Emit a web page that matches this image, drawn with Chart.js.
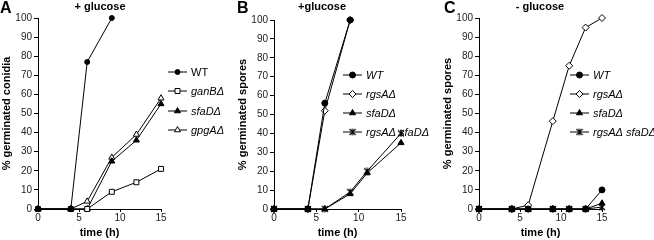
<!DOCTYPE html>
<html><head><meta charset="utf-8">
<script src="https://cdn.jsdelivr.net/npm/chart.js@4/dist/chart.umd.min.js"></script>
<style>
html,body{margin:0;padding:0;background:#fff;}
body{width:654px;height:240px;overflow:hidden;position:relative;}
.p{position:absolute;top:0;height:240px;}
canvas{display:block;}
</style></head><body>
<div class="p" style="left:0px"><canvas id="ca" width="230" height="240"></canvas></div>
<div class="p" style="left:215px"><canvas id="cb" width="215" height="240"></canvas></div>
<div class="p" style="left:430px"><canvas id="cc" width="224" height="240"></canvas></div>
<script>
// ---- data ----
const timeA = [0, 4, 6, 9, 12, 15];
const wtA = [0, 0, 77, 100];
const ganBA = [0, 0, 0, 9, 14, 21];
const sfaDA = [0, 0, 0, 25, 36, 55];
const gpgAA = [0, 0, 4, 27, 39, 58];
const labelsA = ['WT', 'ganBΔ', 'sfaDΔ', 'gpgAΔ'];

const timeB = [0, 4, 6, 9, 11, 15];
const wtB = [0, 0, 56, 100];
const rgsAB = [0, 0, 52, 100];
const sfaDB = [0, 0, 0, 8, 19, 35];
const rgsAsfaDB = [0, 0, 0, 9, 20, 40];
const labelsB = ['WT', 'rgsAΔ', 'sfaDΔ', 'rgsAΔ sfaDΔ'];

const timeC = [0, 4, 6, 9, 11, 13, 15];
const wtC = [0, 0, 0, 0, 0, 0, 10];
const rgsAC = [0, 0, 2, 46, 75, 95, 100];
const sfaDC = [0, 0, 0, 0, 0, 0, 3];
const rgsAsfaDC = [0, 0, 0, 0, 0, 0, 1];
const labelsC = ['WT', 'rgsAΔ', 'sfaDΔ', 'rgsAΔ sfaDΔ'];

const xTicks = [0, 5, 10, 15];
const yTicks = [0, 10, 20, 30, 40, 50, 60, 70, 80, 90, 100];

// ---- helpers ----
function starImg(size) {
  const c = document.createElement('canvas');
  c.width = size; c.height = size;
  const g = c.getContext('2d');
  g.strokeStyle = '#000'; g.lineWidth = 1.2;
  g.beginPath();
  g.moveTo(1, 1); g.lineTo(size - 1, size - 1);
  g.moveTo(size - 1, 1); g.lineTo(1, size - 1);
  g.moveTo(size / 2, 0.5); g.lineTo(size / 2, size - 0.5);
  g.stroke();
  return c;
}
const STAR = starImg(8);

function pts(times, vals) { return vals.map((v, i) => ({ x: times[i], y: v })); }

function ds(label, times, vals, style, radius, fill, italic) {
  return {
    label, data: pts(times, vals), italic,
    borderColor: '#000', borderWidth: 1, tension: 0, clip: false,
    pointStyle: style, pointRadius: radius, pointHoverRadius: radius,
    pointBackgroundColor: fill, pointBorderColor: '#000', pointBorderWidth: 1
  };
}

const FONT = '"Liberation Sans", Arial, sans-serif';

const decor = {
  id: 'decor',
  afterDraw(chart, args, o) {
    const ctx = chart.ctx;
    ctx.save();
    ctx.fillStyle = '#000';
    ctx.font = 'bold 16px ' + FONT;
    ctx.textBaseline = 'top'; ctx.textAlign = 'left';
    ctx.fillText(o.letter, o.letterX, 1);
    ctx.font = 'bold 11px ' + FONT;
    ctx.textAlign = 'center'; ctx.textBaseline = 'middle';
    ctx.fillText(o.title, o.titleX, 7);
    // legend
    const len = 19;
    chart.data.datasets.forEach((d, i) => {
      const y = o.rows[i];
      ctx.strokeStyle = '#000'; ctx.lineWidth = 1;
      ctx.beginPath(); ctx.moveTo(o.legX, y); ctx.lineTo(o.legX + len, y); ctx.stroke();
      ctx.fillStyle = d.pointBackgroundColor; ctx.strokeStyle = '#000';
      Chart.helpers.drawPoint(ctx, { pointStyle: d.pointStyle, radius: d.pointRadius, rotation: 0, borderWidth: 1 }, o.legX + len / 2, y);
      ctx.fillStyle = '#000';
      ctx.font = (d.italic ? 'italic ' : '') + '11px ' + FONT;
      ctx.textAlign = 'left'; ctx.textBaseline = 'middle';
      ctx.fillText(d.label, o.legX + len + 4, y + 0.5);
    });
    ctx.restore();
  }
};

function makeChart(id, datasets, yTitle, L, R, T, W, yTitlePad, dec) {
  new Chart(document.getElementById(id), {
    type: 'line',
    data: { datasets },
    plugins: [decor],
    options: {
      responsive: false, animation: false, devicePixelRatio: 1,
      layout: { padding: { top: T, right: W - R, left: 0, bottom: 0 } },
      plugins: { legend: { display: false }, tooltip: { enabled: false }, decor: dec },
      scales: {
        x: {
          type: 'linear', min: 0, max: 15,
          afterFit: s => { s.height = 31; },
          afterBuildTicks: s => { s.ticks = xTicks.map(v => ({ value: v })); },
          grid: { drawOnChartArea: false, drawTicks: true, tickLength: 3, color: '#000' },
          border: { color: '#000', width: 1 },
          ticks: { color: '#222', font: { family: FONT, size: 10 }, padding: 0, maxRotation: 0 },
          title: { display: true, text: 'time (h)', color: '#000', font: { family: FONT, size: 11, weight: 'bold' }, padding: 0 }
        },
        y: {
          type: 'linear', min: 0, max: 100,
          afterFit: s => { s.width = L; },
          afterBuildTicks: s => { s.ticks = yTicks.map(v => ({ value: v })); },
          grid: { drawOnChartArea: false, drawTicks: true, tickLength: 4, color: '#000' },
          border: { color: '#000', width: 1 },
          ticks: { color: '#222', font: { family: FONT, size: 10 }, padding: 2 },
          title: { display: true, text: yTitle, color: '#000', font: { family: FONT, size: 11, weight: 'bold' }, padding: { top: yTitlePad, bottom: 0 } }
        }
      }
    }
  });
}

makeChart('ca', [
  ds(labelsA[0], timeA, wtA, 'circle', 2.5, '#000', false),
  ds(labelsA[1], timeA, ganBA, 'rect', 3.5, '#fff', true),
  ds(labelsA[2], timeA, sfaDA, 'triangle', 3.5, '#000', true),
  ds(labelsA[3], timeA, gpgAA, 'triangle', 3.5, '#fff', true)
], '% germinated conidia', 38, 161, 18, 230, 0,
  { letter: 'A', letterX: 0, title: '+ glucose', titleX: 100, legX: 168, rows: [72, 91, 111, 130] });

makeChart('cb', [
  ds(labelsB[0], timeB, wtB, 'circle', 3, '#000', true),
  ds(labelsB[1], timeB, rgsAB, 'rectRot', 3.5, '#fff', true),
  ds(labelsB[2], timeB, sfaDB, 'triangle', 3.5, '#000', true),
  ds(labelsB[3], timeB, rgsAsfaDB, STAR, 4, '#fff', true)
], '% germinated spores', 59, 186, 20, 215, 21,
  { letter: 'B', letterX: 22, title: '+glucose', titleX: 107, legX: 128, rows: [75, 94, 113, 132] });

makeChart('cc', [
  ds(labelsC[0], timeC, wtC, 'circle', 3, '#000', true),
  ds(labelsC[1], timeC, rgsAC, 'rectRot', 3.5, '#fff', true),
  ds(labelsC[2], timeC, sfaDC, 'triangle', 3.5, '#000', true),
  ds(labelsC[3], timeC, rgsAsfaDC, STAR, 4, '#fff', true)
], '% germinated spores', 49, 172, 18, 224, 11,
  { letter: 'C', letterX: 14, title: '- glucose', titleX: 110, legX: 140, rows: [75, 94, 113, 132] });
</script>
</body></html>
